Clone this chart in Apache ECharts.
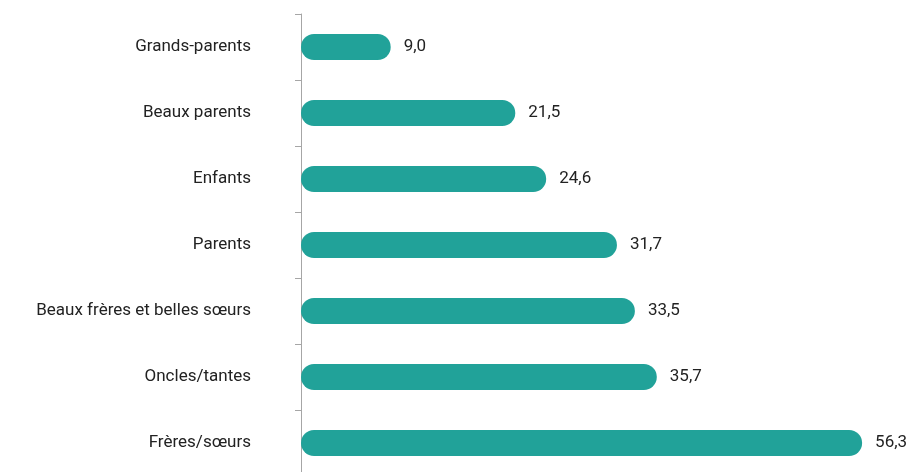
<!DOCTYPE html>
<html>
<head>
<meta charset="utf-8">
<script src="https://cdn.jsdelivr.net/npm/echarts@6/dist/echarts.min.js"></script>
<style>
    html, body { margin: 0; padding: 0; background: #ffffff; }
    #chart { width: 911px; height: 472px; }
</style>
</head>
<body>
<div id="chart"></div>
<script>
    // catégories de haut en bas
    var categories = ['Grands-parents', 'Beaux parents', 'Enfants', 'Parents',
        'Beaux frères et belles sœurs', 'Oncles/tantes', 'Frères/sœurs'];
    var values = [9.0, 21.5, 24.6, 31.7, 33.5, 35.7, 56.3];

    var font = 'Roboto, sans-serif';

    var myChart = echarts.init(document.getElementById('chart'));
    myChart.setOption({
        backgroundColor: '#ffffff',
        animation: false,
        grid: { left: 301, width: 598, top: 14, height: 462, outerBoundsMode: 'none' },
        xAxis: {
            type: 'value',
            min: 0,
            max: 60,
            show: false
        },
        yAxis: {
            type: 'category',
            data: categories,
            inverse: true,
            axisLine: { lineStyle: { color: '#a6a6a6', width: 1 } },
            axisTick: { show: true, length: 6, lineStyle: { color: '#a6a6a6' } },
            axisLabel: {
                margin: 50,
                color: '#222222',
                fontFamily: font,
                fontSize: 17
            }
        },
        series: [{
            type: 'bar',
            data: values,
            barWidth: 26,
            itemStyle: { color: '#21a299', borderRadius: 13 },
            label: {
                show: true,
                position: 'right',
                distance: 13,
                color: '#222222',
                fontFamily: font,
                fontSize: 17,
                formatter: function (p) {
                    return p.value.toFixed(1).replace('.', ',');
                }
            }
        }]
    });
</script>
</body>
</html>
